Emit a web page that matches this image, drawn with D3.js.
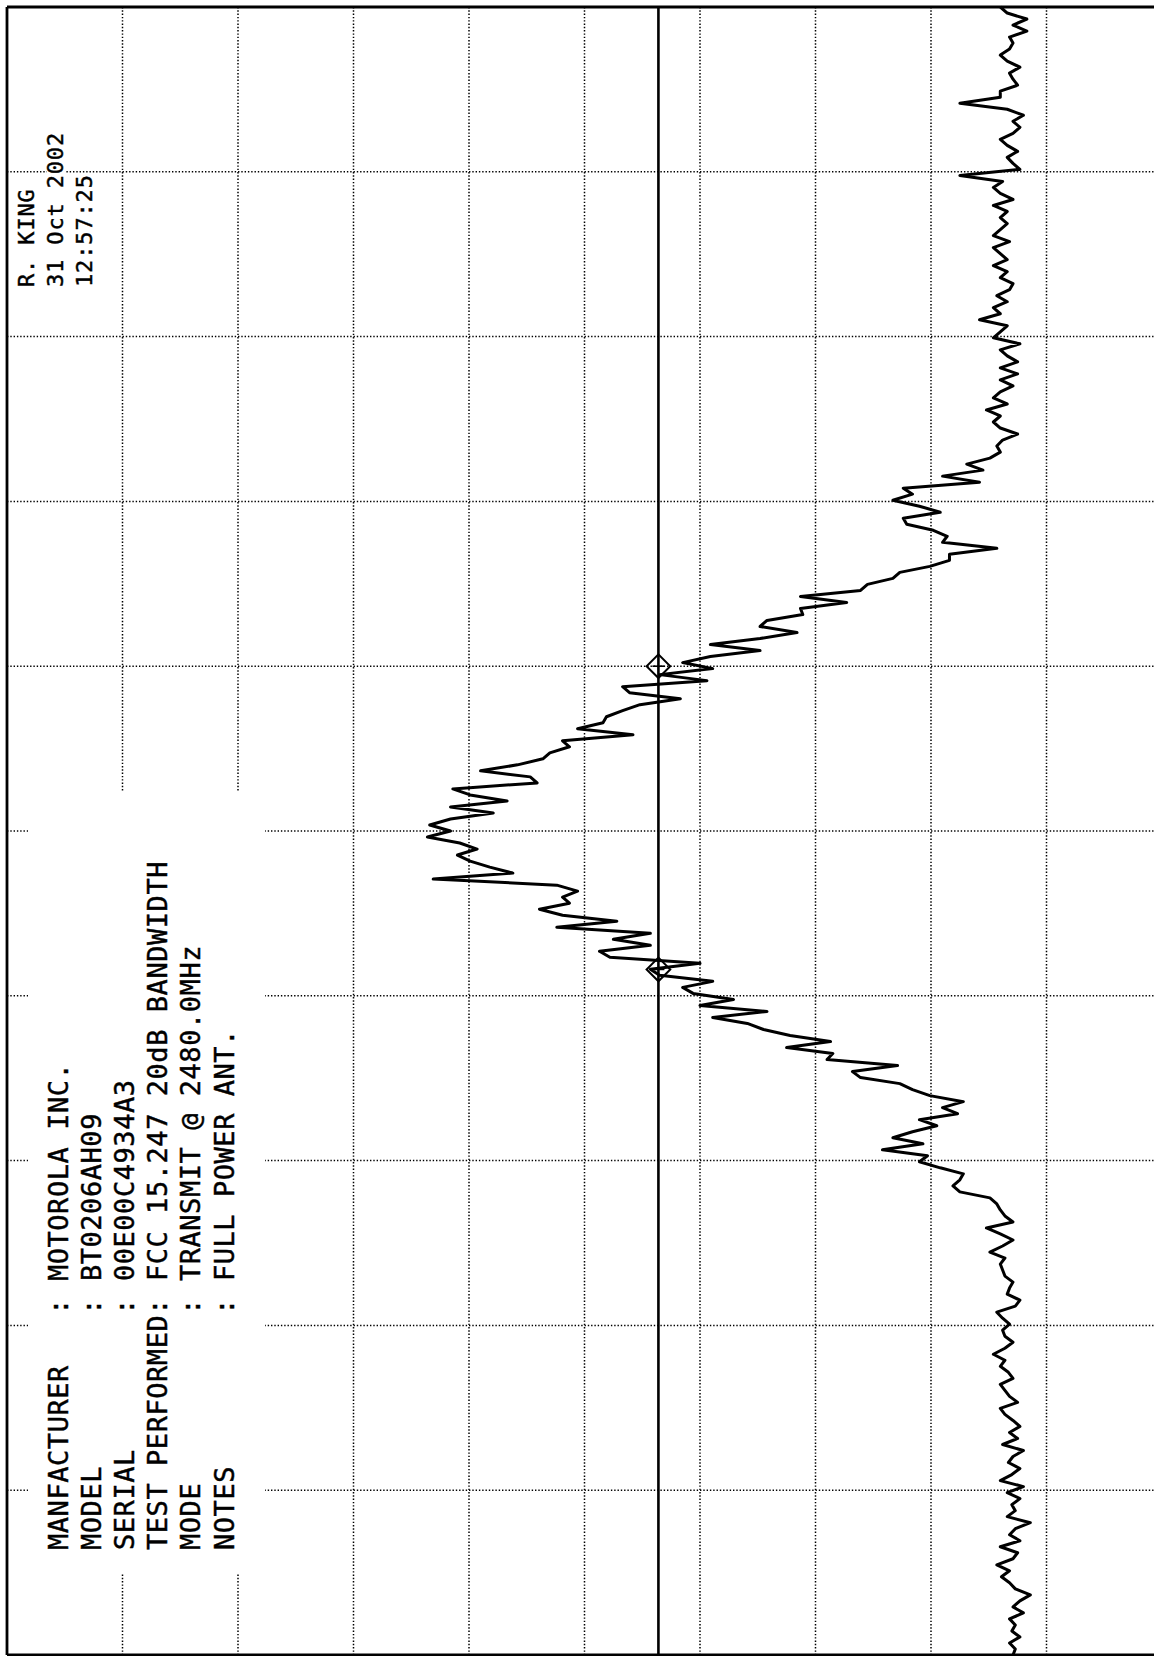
<!DOCTYPE html>
<html>
<head>
<meta charset="utf-8">
<script src="https://cdn.jsdelivr.net/npm/d3@7"></script>
<style>
body { margin: 0; background: #fff; }
svg { display: block; }
text { font-family: "DejaVu Sans Mono", "Liberation Mono", monospace; fill: #000; stroke: #000; stroke-width: 0.45; white-space: pre; }
</style>
</head>
<body>
<div id="chart"></div>
<script>
// sweep settings
var gnStartFreq = 2477.5;
var gnStopFreq = 2482.5;
var gnRefLevel = 0;
var gnBottomLevel = -100;
var gnDisplayLine = -56.4;

var gaLevelDivisions = [0, -10, -20, -30, -40, -50, -60, -70, -80, -90, -100];
var gaFreqDivisions = [2477.5, 2478.0, 2478.5, 2479.0, 2479.5, 2480.0, 2480.5, 2481.0, 2481.5, 2482.0, 2482.5];

var gaMarkerFreqs = [2479.58, 2480.50];

var gaHeaderLabels = ["MANFACTURER", "MODEL", "SERIAL", "TEST PERFORMED", "MODE", "NOTES"];
var gaHeaderValues = ["MOTOROLA INC.", "BT0206AH09", "00E00C4934A3", "FCC 15.247 20dB BANDWIDTH", "TRANSMIT @ 2480.0MHz", "FULL POWER ANT."];
var gaStampLines = ["R. KING", "31 Oct 2002", "12:57:25"];

// trace level (dB), one value per sweep point, start -> stop frequency
var gaTraceLevels = [
	-87.1, -87.3, -86.8, -87.7, -87.0, -87.3, -86.8, -88.0, -87.1, -87.7,
	-88.6, -87.3, -86.8, -86.1, -86.8, -85.7, -87.1, -87.5, -86.0, -87.7,
	-86.8, -87.3, -88.6, -86.6, -87.3, -87.0, -87.7, -86.6, -88.0, -86.0,
	-87.0, -87.7, -86.7, -87.1, -88.0, -86.2, -87.5, -86.8, -87.7, -87.1,
	-86.4, -86.0, -87.5, -86.8, -86.4, -86.0, -87.1, -86.7, -86.0, -86.4,
	-85.4, -86.4, -87.1, -86.4, -86.2, -86.8, -86.2, -85.7, -87.3, -87.7,
	-86.6, -86.8, -87.1, -86.4, -86.2, -86.0, -86.4, -85.1, -86.2, -87.1,
	-86.0, -84.8, -87.1, -86.4, -86.0, -85.7, -85.1, -82.5, -81.9, -82.5,
	-82.8, -80.8, -79.0, -79.7, -75.8, -79.3, -76.7, -78.4, -80.5, -79.0,
	-82.3, -81.0, -82.8, -79.9, -78.4, -77.3, -73.9, -73.2, -77.1, -71.0,
	-71.5, -67.5, -71.3, -67.8, -65.5, -64.1, -61.1, -65.8, -60.0, -62.9,
	-59.4, -58.5, -61.1, -56.5, -55.7, -60.0, -52.2, -51.3, -55.7, -52.5,
	-55.7, -47.6, -52.8, -48.1, -46.1, -48.7, -48.1, -49.4, -47.6, -36.9,
	-43.8, -41.8, -40.1, -39.0, -40.7, -39.2, -36.4, -38.4, -36.6, -38.4,
	-42.1, -38.4, -43.3, -40.1, -38.6, -45.9, -45.3, -41.0, -44.2, -46.4,
	-47.0, -48.7, -48.1, -54.2, -49.4, -51.6, -51.9, -53.3, -54.8, -58.3,
	-53.9, -53.3, -60.6, -56.5, -61.1, -58.5, -60.9, -65.2, -60.9, -65.2,
	-68.4, -65.2, -65.8, -68.9, -68.7, -72.7, -68.7, -73.9, -74.5, -76.7,
	-77.3, -79.9, -81.6, -81.6, -85.7, -81.0, -81.4, -80.2, -77.9, -77.6,
	-80.8, -79.0, -76.7, -78.4, -77.6, -84.2, -81.0, -84.5, -83.1, -85.1,
	-86.0, -85.7, -86.2, -87.5, -86.0, -85.4, -86.0, -84.8, -86.6, -85.4,
	-86.0, -87.1, -86.0, -87.5, -86.0, -87.5, -86.6, -86.0, -87.7, -85.4,
	-86.0, -86.6, -84.2, -86.0, -85.4, -86.6, -85.7, -86.8, -87.1, -86.0,
	-86.6, -85.4, -86.6, -86.0, -85.4, -86.8, -85.4, -86.0, -86.6, -86.0,
	-86.6, -85.4, -87.1, -86.0, -85.4, -86.2, -82.5, -87.7, -87.1, -86.6,
	-87.5, -86.6, -86.0, -87.1, -87.7, -87.1, -88.0, -86.6, -82.5, -86.0,
	-86.0, -87.5, -87.1, -86.8, -87.7, -86.6, -86.0, -86.8, -87.1, -86.8,
	-88.3, -87.1, -88.3, -86.6, -86.0
];

var W = 1154, H = 1656;

// plot is printed turned on its side: frequency runs up the page, level runs left (high) to right (low)
var yFreq = d3.scaleLinear().domain([gnStartFreq, gnStopFreq]).range([1655, 7]);
var xLevel = d3.scaleLinear().domain([gnRefLevel, gnBottomLevel]).range([7, 1162]);

function drawGrid(svg)
{
	var g = svg.append("g").attr("stroke", "#000").attr("stroke-width", 1.5).attr("stroke-dasharray", "1.4,1.9");
	g.selectAll("line.v").data(gaLevelDivisions.slice(1, -1)).enter().append("line")
		.attr("class", "v")
		.attr("x1", function(d) { return xLevel(d); }).attr("x2", function(d) { return xLevel(d); })
		.attr("y1", yFreq(gnStopFreq)).attr("y2", yFreq(gnStartFreq));
	g.selectAll("line.h").data(gaFreqDivisions.slice(1, -1)).enter().append("line")
		.attr("class", "h")
		.attr("y1", function(d) { return yFreq(d); }).attr("y2", function(d) { return yFreq(d); })
		.attr("x1", xLevel(gnRefLevel)).attr("x2", xLevel(gnBottomLevel));
}

function drawFrame(svg)
{
	var g = svg.append("g").attr("stroke", "#000").attr("fill", "none");
	g.append("line").attr("x1", xLevel(gnRefLevel)).attr("x2", xLevel(gnRefLevel))
		.attr("y1", yFreq(gnStopFreq)).attr("y2", yFreq(gnStartFreq)).attr("stroke-width", 2.8);
	g.append("line").attr("x1", xLevel(gnRefLevel)).attr("x2", W)
		.attr("y1", yFreq(gnStopFreq)).attr("y2", yFreq(gnStopFreq)).attr("stroke-width", 3);
	g.append("line").attr("x1", xLevel(gnRefLevel)).attr("x2", W)
		.attr("y1", yFreq(gnStartFreq)).attr("y2", yFreq(gnStartFreq)).attr("stroke-width", 2.8);
}

function drawHeader(svg)
{
	// blank box behind the test notes
	svg.append("rect").attr("x", 28).attr("y", 791).attr("width", 237).attr("height", 782).attr("fill", "#fff");
	var g = svg.append("g");
	for (a = 0; a < gaHeaderLabels.length; a++)
	{
		var label = gaHeaderLabels[a];
		while (label.length < 14) label += " ";
		g.append("text")
			.attr("transform", "translate(" + (67.5 + a * 33.2) + ",1550) rotate(-90)")
			.attr("font-size", 27).attr("letter-spacing", 0.55)
			.text(label + ": " + gaHeaderValues[a]);
	}
	var s = svg.append("g");
	for (a = 0; a < gaStampLines.length; a++)
	{
		var t = s.append("text")
			.attr("transform", "translate(" + (33.5 + a * 29.3) + ",287) rotate(-90)")
			.attr("font-size", 22).attr("letter-spacing", 0.85)
			.text(gaStampLines[a]);
		var bb = t.node().getBBox();
		s.insert("rect", "text")
			.attr("transform", "translate(" + (33.5 + a * 29.3) + ",287) rotate(-90)")
			.attr("x", bb.x).attr("y", bb.y + 4).attr("width", bb.width).attr("height", bb.height - 6)
			.attr("fill", "#fff");
	}
}

function drawTrace(svg)
{
	var n = gaTraceLevels.length;
	var freqs = d3.range(n).map(function(i) { return gnStartFreq + i * (gnStopFreq - gnStartFreq) / (n - 1); });
	var line = d3.line()
		.x(function(d, i) { return xLevel(d); })
		.y(function(d, i) { return yFreq(freqs[i]); });
	svg.append("path").datum(gaTraceLevels)
		.attr("d", line)
		.attr("fill", "none").attr("stroke", "#000").attr("stroke-width", 3)
		.attr("stroke-linejoin", "round");
}

function drawDisplayLine(svg)
{
	svg.append("line")
		.attr("x1", xLevel(gnDisplayLine)).attr("x2", xLevel(gnDisplayLine))
		.attr("y1", yFreq(gnStopFreq)).attr("y2", yFreq(gnStartFreq))
		.attr("stroke", "#000").attr("stroke-width", 2.6);
	var sym = d3.symbol().type(d3.symbolSquare).size(280);
	var m = svg.selectAll("g.marker").data(gaMarkerFreqs).enter().append("g")
		.attr("class", "marker")
		.attr("transform", function(d) { return "translate(" + xLevel(gnDisplayLine) + "," + yFreq(d) + ")"; });
	m.append("path").attr("d", sym).attr("transform", "rotate(45)")
		.attr("fill", "none").attr("stroke", "#000").attr("stroke-width", 2);
	m.append("line").attr("x1", -6).attr("x2", 6).attr("stroke", "#000").attr("stroke-width", 1.6);
}

var svg = d3.select("#chart").append("svg").attr("width", W).attr("height", H);
svg.append("rect").attr("width", W).attr("height", H).attr("fill", "#fff");
drawGrid(svg);
drawHeader(svg);
drawFrame(svg);
drawTrace(svg);
drawDisplayLine(svg);
</script>
</body>
</html>
